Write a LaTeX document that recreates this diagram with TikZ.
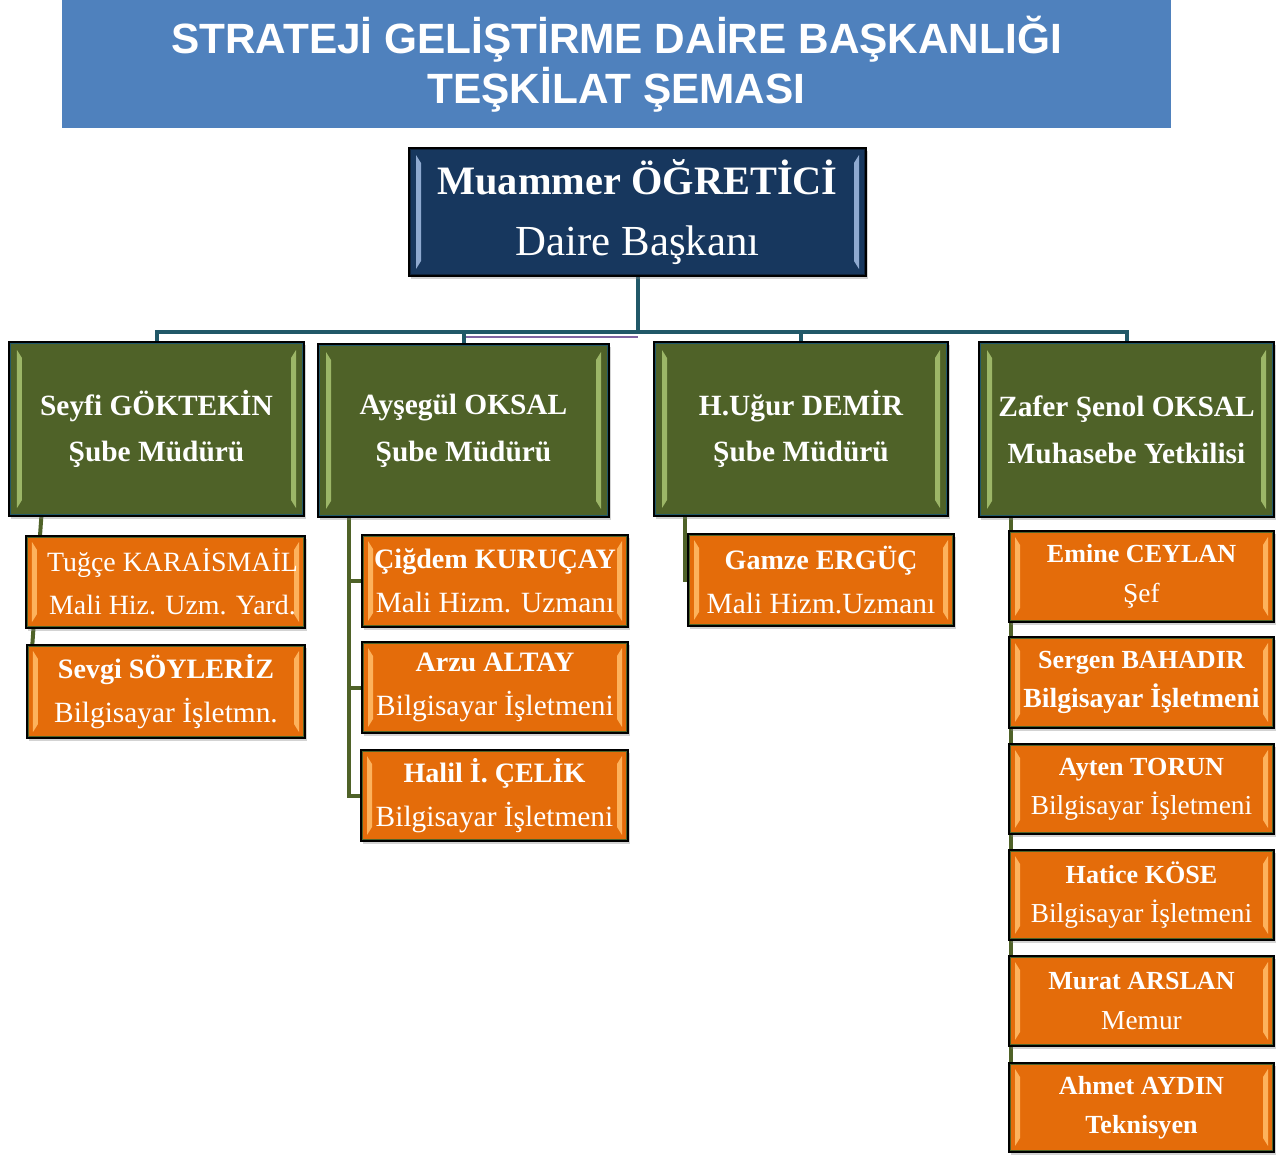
\documentclass[tikz,border=0pt]{standalone}
\usepackage{fontspec}
\setmainfont{Liberation Serif}
\newfontfamily\titlefont{Liberation Sans}
\usetikzlibrary{calc,shadows}
\pgfdeclarelayer{bg}
\pgfsetlayers{bg,main}
\definecolor{banner}{HTML}{4F81BD}
\definecolor{navy}{HTML}{17375E}
\definecolor{navylight}{HTML}{8EA9D0}
\definecolor{olive}{HTML}{4F6228}
\definecolor{olivelight}{HTML}{9CB667}
\definecolor{orng}{HTML}{E46C0A}
\definecolor{orngl}{HTML}{FDB25C}
\definecolor{tealc}{HTML}{215868}
\definecolor{purp}{HTML}{8064A2}
\newcommand{\bA}[1]{{\fontsize{28.2}{44}\selectfont\bfseries #1}}
\newcommand{\bB}[1]{{\fontsize{26.2}{39.5}\selectfont\bfseries #1}}
\tikzset{
  bevel/.style n args={4}{path picture={
    \path (path picture bounding box.north west) coordinate (pNW)
          (path picture bounding box.north east) coordinate (pNE)
          (path picture bounding box.south west) coordinate (pSW)
          (path picture bounding box.south east) coordinate (pSE);
    \draw[#4, line width=4bp] (pNW) rectangle (pSE);
    \fill[#1] ($(pNW)+(#2,#2)$) -- ($(pNW)+(#2+#3,#2+1.6*#3)$) -- ($(pSW)+(#2+#3,-#2-1.6*#3)$) -- ($(pSW)+(#2,-#2)$) -- cycle;
    \fill[#1] ($(pNE)+(-#2,#2)$) -- ($(pNE)+(-#2-#3,#2+1.6*#3)$) -- ($(pSE)+(-#2-#3,-#2-1.6*#3)$) -- ($(pSE)+(-#2,-#2)$) -- cycle;
  }},
  box/.style={draw=black, line width=1.3bp, inner sep=0pt, align=center, text=white,
    drop shadow={opacity=0.35, shadow xshift=2bp, shadow yshift=-3bp}},
  titlebox/.style={fill=banner, inner sep=0pt, align=center, text=white,
    minimum width=1109bp, minimum height=128bp,
    font=\titlefont\fontsize{42.5}{50}\selectfont\bfseries},
  topbox/.style={box, fill=navy, bevel={navylight}{7}{5}{navy!60!black},
    minimum width=457bp, minimum height=128bp, font=\fontsize{43}{61}\selectfont},
  greenbox/.style={box, fill=olive, bevel={olivelight}{8}{5}{tealc},
    minimum width=295bp, minimum height=174bp, font=\fontsize{29.5}{47}\selectfont\bfseries},
  orangebox/.style={box, fill=orng, bevel={orngl}{6}{5}{olive},
    minimum width=266bp, minimum height=92bp, font=\fontsize{29.5}{44}\selectfont},
  smallbox/.style={box, fill=orng, bevel={orngl}{6}{5}{olive},
    minimum width=265bp, minimum height=90bp, font=\fontsize{27.5}{39.5}\selectfont},
  tline/.style={draw=tealc, line width=4bp},
  gline/.style={draw=olive, line width=4bp},
  pline/.style={draw=purp, line width=2.5bp}
}
\begin{document}
\begin{tikzpicture}[x=1bp,y=-1bp]
\useasboundingbox (0,0) rectangle (1277,1155);
% title
\node[titlebox] (title) at (616.5,64) {STRATEJİ GELİŞTİRME DAİRE BAŞKANLIĞI\\TEŞKİLAT ŞEMASI};
% top
\node[topbox] (top) at (637.5,212) {\textbf{\fontsize{40.5}{61}\selectfont Muammer ÖĞRETİCİ}\\Daire Başkanı};
% level 2
\node[greenbox] (b1) at (156.5,429) {Seyfi GÖKTEKİN\\Şube Müdürü};
\node[greenbox, minimum width=291bp, minimum height=173bp] (b2) at (463.5,430.5) {Ayşegül OKSAL\\Şube Müdürü};
\node[greenbox, minimum width=294bp] (b3) at (801,429) {H.Uğur DEMİR\\Şube Müdürü};
\node[greenbox, minimum height=175bp] (b4) at (1126.5,429.5) {Zafer Şenol OKSAL\\Muhasebe Yetkilisi};
% column 1
\node[orangebox, minimum width=279bp, font=\fontsize{28}{43}\selectfont] (c11) at (165.5,582) {\hspace*{14bp}Tuğçe KARAİSMAİL\\\hspace*{14bp}Mali Hiz. Uzm. Yard.};
\node[orangebox, minimum width=278bp, minimum height=93bp] (c12) at (166,691.5) {\bA{Sevgi SÖYLERİZ}\\Bilgisayar İşletmn.};
% column 2
\node[orangebox] (c21) at (495,581) {\bA{Çiğdem KURUÇAY}\\Mali Hizm. Uzmanı};
\node[orangebox, minimum height=91bp] (c22) at (495,687.5) {\bA{Arzu ALTAY}\\Bilgisayar İşletmeni};
\node[orangebox, minimum width=267bp, minimum height=91bp] (c23) at (494.5,795.5) {\bA{Halil İ. ÇELİK}\\Bilgisayar İşletmeni};
% column 3
\node[orangebox] (c31) at (821,580) {\bA{Gamze ERGÜÇ}\\Mali Hizm.Uzmanı};
% column 4
\node[smallbox, minimum height=91bp] (c41) at (1141.5,576.5) {\bB{Emine CEYLAN}\\Şef};
\node[smallbox, minimum height=91bp] (c42) at (1141.5,682.5) {\bB{Sergen BAHADIR}\\{\fontsize{27.8}{39.5}\selectfont\bfseries Bilgisayar İşletmeni}};
\node[smallbox] (c43) at (1141.5,789) {\bB{Ayten TORUN}\\Bilgisayar İşletmeni};
\node[smallbox] (c44) at (1141.5,895) {\bB{Hatice KÖSE}\\Bilgisayar İşletmeni};
\node[smallbox] (c45) at (1141.5,1001) {\bB{Murat ARSLAN}\\Memur};
\node[smallbox, minimum height=89bp] (c46) at (1141.5,1107.5) {\bB{Ahmet AYDIN}\\\bB{Teknisyen}};
% connectors
\coordinate (bus) at (637.5,332);
\coordinate (pbus) at (637.5,337);
\begin{pgfonlayer}{bg}
  \draw[pline] (b2.north) |- (pbus);
  \draw[tline] (top.south) -- (bus);
  \draw[tline] (b1.north) |- (bus);
  \draw[tline] (b2.north) |- (bus);
  \draw[tline] (b3.north) |- (bus);
  \draw[tline] (b4.north) |- (bus);
  \draw[gline] ($(b1.south west)+(33,0)$) -- ($(c12.north west)+(6,0)$);
  \draw[gline] ($(b2.south west)+(32,0)$) |- (c21.west);
  \draw[gline] ($(b2.south west)+(32,0)$) |- (c22.west);
  \draw[gline] ($(b2.south west)+(32,0)$) |- (c23.west);
  \draw[gline] ($(b3.south west)+(32,0)$) |- (c31.west);
  \draw[gline] ($(b4.south west)+(33,0)$) |- (c41.west);
  \draw[gline] ($(b4.south west)+(33,0)$) |- (c42.west);
  \draw[gline] ($(b4.south west)+(33,0)$) |- (c43.west);
  \draw[gline] ($(b4.south west)+(33,0)$) |- (c44.west);
  \draw[gline] ($(b4.south west)+(33,0)$) |- (c45.west);
  \draw[gline] ($(b4.south west)+(33,0)$) |- (c46.west);
\end{pgfonlayer}
\end{tikzpicture}
\end{document}
